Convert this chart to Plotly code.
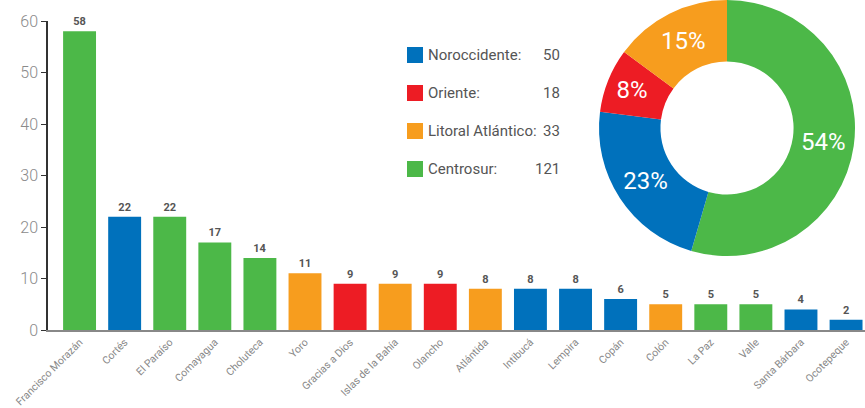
import plotly.graph_objects as go

departments = ["Francisco Morazán", "Cortés", "El Paraíso", "Comayagua", "Choluteca",
               "Yoro", "Gracias a Dios", "Islas de la Bahía", "Olancho", "Atlántida",
               "Intibucá", "Lempira", "Copán", "Colón", "La Paz", "Valle",
               "Santa Bárbara", "Ocotepeque"]
dept_values = [58, 22, 22, 17, 14, 11, 9, 9, 9, 8, 8, 8, 6, 5, 5, 5, 4, 2]
dept_region = ["Centrosur", "Noroccidente", "Centrosur", "Centrosur", "Centrosur",
               "Litoral Atlántico", "Oriente", "Litoral Atlántico", "Oriente", "Litoral Atlántico",
               "Noroccidente", "Noroccidente", "Noroccidente", "Litoral Atlántico", "Centrosur", "Centrosur",
               "Noroccidente", "Noroccidente"]

legend_regions = ["Noroccidente", "Oriente", "Litoral Atlántico", "Centrosur"]
legend_values = [50, 18, 33, 121]

pie_regions = ["Centrosur", "Noroccidente", "Oriente", "Litoral Atlántico"]
pie_values = [121, 50, 18, 33]
pie_text = ["54%", "23%", "8%", "15%"]

region_colors = {
    "Noroccidente": "#0071BC",
    "Oriente": "#ED1C24",
    "Litoral Atlántico": "#F79D1E",
    "Centrosur": "#4CB848",
}

W, H = 865, 408
ML, MR, MT, MB = 48, 0, 0, 78
PW, PH = W - ML - MR, H - MT - MB
Y_TOP_PX = 21  # pixel of y=60

fig = go.Figure()

fig.add_trace(go.Bar(
    x=departments, y=dept_values,
    marker=dict(color=[region_colors[r] for r in dept_region], line=dict(width=0)),
    text=[str(v) for v in dept_values], textposition="outside",
    textfont=dict(family="Roboto", size=11, color="#555555", weight="bold"),
    cliponaxis=False, showlegend=False, hoverinfo="x+y",
))

# donut
cx, cy, r = 727, 128, 128
fig.add_trace(go.Pie(
    labels=pie_regions, values=pie_values, text=pie_text, textinfo="text",
    sort=False, direction="clockwise", rotation=0, hole=0.52,
    marker=dict(colors=[region_colors[p] for p in pie_regions], line=dict(width=0)),
    textposition="inside", insidetextorientation="horizontal",
    textfont=dict(family="Roboto", size=24, color="white"),
    domain=dict(x=[(cx - r - ML) / PW, (cx + r - ML) / PW],
                y=[(PH - (cy + r)) / PH, 1.0]),
    showlegend=False,
))

# manual legend
annotations = []
shapes = []
row0, step = 55, 38
for i, (name, val) in enumerate(zip(legend_regions, legend_values)):
    ypx = row0 + i * step
    yp = (PH - ypx) / PH
    shapes.append(dict(type="rect", xref="paper", yref="paper",
                       x0=(407 - ML) / PW, x1=(423 - ML) / PW,
                       y0=(PH - (ypx + 8)) / PH, y1=(PH - (ypx - 8)) / PH,
                       fillcolor=region_colors[name], line=dict(width=0)))
    annotations.append(dict(xref="paper", yref="paper", x=(426 - ML) / PW, y=yp,
                            text=name + ":", showarrow=False, xanchor="left", yanchor="middle",
                            font=dict(family="Roboto", size=15, color="#555555")))
    annotations.append(dict(xref="paper", yref="paper", x=(562 - ML) / PW, y=yp,
                            text=str(val), showarrow=False, xanchor="right", yanchor="middle",
                            font=dict(family="Roboto", size=15, color="#555555")))

fig.update_layout(
    width=W, height=H,
    margin=dict(l=ML, r=MR, t=MT, b=MB, pad=0, autoexpand=False),
    paper_bgcolor="white", plot_bgcolor="white",
    bargap=0.27,
    shapes=shapes, annotations=annotations,
    xaxis=dict(range=[-0.7, 17.42], showgrid=False, showline=True, linecolor="#888888",
               linewidth=2, ticks="", tickangle=-45, automargin=False,
               tickfont=dict(family="Roboto", size=10.5, color="#888888")),
    yaxis=dict(range=[0, 60], domain=[0, (PH - Y_TOP_PX) / PH], showgrid=False,
               zeroline=False, showline=True, linecolor="#333333", linewidth=1.5,
               ticks="outside", ticklen=5, tickcolor="#333333", tickwidth=1,
               tickvals=[0, 10, 20, 30, 40, 50, 60], automargin=False,
               tickfont=dict(family="Roboto", size=16, color="#8a8a8a", weight=300)),
    font=dict(family="Roboto"),
)

fig.write_html("out.html")
